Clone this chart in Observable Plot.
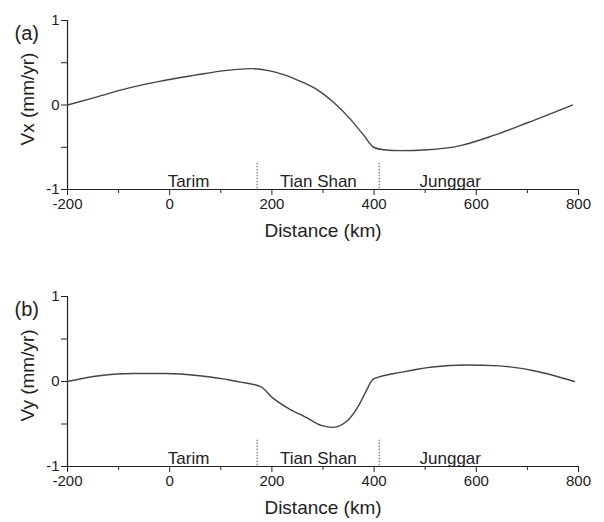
<!DOCTYPE html>
<html>
<head>
<meta charset="utf-8">
<script src="https://cdn.jsdelivr.net/npm/d3@7"></script>
<script src="https://cdn.jsdelivr.net/npm/@observablehq/plot@0.6"></script>
<style>
  html, body { margin: 0; padding: 0; background: #fff; }
  #chart svg { display: block; }
</style>
</head>
<body>
<div id="chart"></div>
<script>
// Panel (a): Vx profile
const vxDistance = [-200, -140, -83, -20, 47, 112, 160, 191, 223, 256, 289, 321, 354, 380, 399, 419, 452, 504, 569, 634, 700, 788];
const vxValue    = [0, 0.10, 0.196, 0.28, 0.35, 0.41, 0.43, 0.41, 0.36, 0.28, 0.18, 0.03, -0.17, -0.36, -0.50, -0.53, -0.54, -0.53, -0.48, -0.36, -0.21, 0.0];
// Panel (b): Vy profile
const vyDistance = [-200, -138, -73, -7, 58, 122, 136, 178, 201, 233, 266, 298, 318, 344, 370, 383, 399, 455, 514, 580, 645, 710, 792];
const vyValue    = [0, 0.067, 0.094, 0.094, 0.067, 0.012, -0.005, -0.06, -0.19, -0.32, -0.42, -0.52, -0.54, -0.48, -0.28, -0.13, 0.03, 0.11, 0.17, 0.195, 0.184, 0.13, 0];

const regionNames = ["Tarim", "Tian Shan", "Junggar"];
const regionCenters = [37, 291, 549];
const boundaries = [171, 410];

const xMajorTicks = [-200, 0, 200, 400, 600, 800];
const xMinorTicks = [-100, 100, 300, 500, 700];
const yTicks = [-1, -0.5, 0, 0.5, 1];
const yLabelTicks = [-1, 0, 1];

const font = "Liberation Sans, Arial, sans-serif";
const ink = "#222";

function panel({xs, ys, tag, ylabel, height, marginTop, marginBottom}) {
  const data = xs.map((d, i) => ({x: d, y: ys[i]}));
  return Plot.plot({
    width: 604,
    height,
    marginTop,
    marginBottom,
    marginLeft: 67,
    marginRight: 26,
    style: {fontFamily: font, fontSize: "15px", color: ink, background: "#fff"},
    x: {domain: [-200, 800]},
    y: {domain: [-1, 1]},
    marks: [
      Plot.axisX({ticks: xMinorTicks, tickSize: 4, tickFormat: () => "", label: null, stroke: ink}),
      Plot.axisX({ticks: xMajorTicks, tickSize: 6, tickPadding: 3, tickFormat: d => String(d), label: null, fontSize: 15, fill: ink, stroke: ink}),
      Plot.axisY({ticks: yTicks, tickSize: 6, tickPadding: 2, tickFormat: d => yLabelTicks.includes(d) ? String(d) : "", label: null, fontSize: 15, fill: ink, stroke: ink}),
      Plot.ruleY([-1], {stroke: ink, strokeWidth: 1.2}),
      Plot.ruleX([-200], {stroke: ink, strokeWidth: 1.2}),
      Plot.ruleX(boundaries, {y1: -0.69, y2: -1, stroke: "#555", strokeDasharray: "1.5,1.5", strokeWidth: 1}),
      Plot.text(regionNames, {x: (d, i) => regionCenters[i], y: -1, dy: -3, lineAnchor: "bottom", text: d => d, fontSize: 17, fill: ink}),
      Plot.line(data, {x: "x", y: "y", curve: "monotone-x", stroke: "#444", strokeWidth: 1.4}),
      Plot.text([ylabel], {frameAnchor: "left", textAnchor: "middle", dx: -40, dy: -6, rotate: -90, text: d => d, fontSize: 19, fill: ink}),
      Plot.text([tag], {frameAnchor: "top-left", dx: -53, dy: 5, textAnchor: "start", text: d => d, fontSize: 20, fill: ink}),
      Plot.text(["Distance (km)"], {frameAnchor: "bottom", dy: 47, text: d => d, fontSize: 19, fill: ink})
    ]
  });
}

const chart = document.getElementById("chart");
chart.appendChild(panel({xs: vxDistance, ys: vxValue, tag: "(a)", ylabel: "Vx (mm/yr)", height: 261, marginTop: 20, marginBottom: 72}));
chart.appendChild(panel({xs: vyDistance, ys: vyValue, tag: "(b)", ylabel: "Vy (mm/yr)", height: 261, marginTop: 35, marginBottom: 56}));
</script>
</body>
</html>
